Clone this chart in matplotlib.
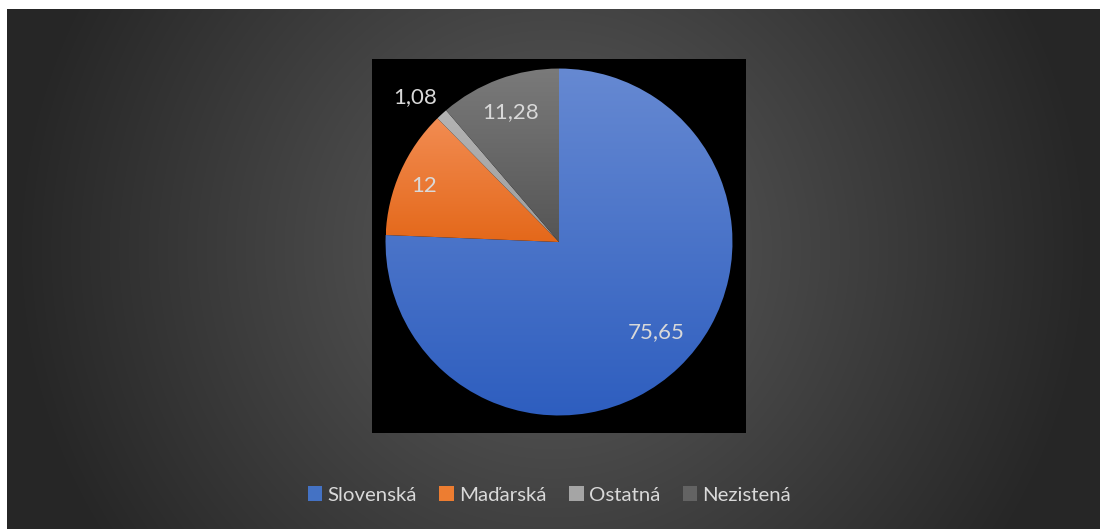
import numpy as np
import matplotlib.pyplot as plt
from matplotlib.colors import LinearSegmentedColormap

categories = ["Slovenská", "Maďarská", "Ostatná", "Nezistená"]
values = [75.65, 12, 1.08, 11.28]
labels = ["75,65", "12", "1,08", "11,28"]

# (top colour, bottom colour) for each slice
grads = [("#6689d2", "#2e5ebf"), ("#f28c52", "#e4681a"),
         ("#b4b4b4", "#9c9c9c"), ("#7a7a7a", "#555555")]
legend_colors = ["#4472c4", "#ed7d31", "#a5a5a5", "#636363"]

W, H = 1100, 529
fig = plt.figure(figsize=(11, 5.29), dpi=100, facecolor="white")

# dark radial background
bg = fig.add_axes([7 / W, 0, 1 - 7 / W, 1 - 9 / H])
yy, xx = np.mgrid[0:520, 0:1093]
r = np.hypot(xx - 545, yy - 240) / 600.0
t = np.clip((r - 0.22) / 0.68, 0, 1)
shade = (0x50 - (0x50 - 0x26) * t) / 255.0
bg.imshow(np.dstack([shade] * 3), aspect="auto", extent=(0, 1, 0, 1),
          origin="upper")
bg.set_axis_off()

# black plot area
ax = fig.add_axes([372 / W, (H - 433) / H, 374 / W, 374 / H])
wedges, _ = ax.pie(values, startangle=90, counterclock=False, radius=1,
                   wedgeprops=dict(linewidth=0))
ax.set_frame_on(True)
ax.set_facecolor("black")
for s in ax.spines.values():
    s.set_visible(False)
ax.set_xticks([])
ax.set_yticks([])

for w, (top, bot) in zip(wedges, grads):
    w.set_facecolor("none")
    verts = w.get_path().vertices
    ymin, ymax = verts[:, 1].min(), verts[:, 1].max()
    xmin, xmax = verts[:, 0].min(), verts[:, 0].max()
    cmap = LinearSegmentedColormap.from_list("g", [bot, top])
    grad = np.linspace(0, 1, 256).reshape(-1, 1)
    im = ax.imshow(grad, cmap=cmap, aspect="auto", origin="lower",
                   extent=(xmin, xmax, ymin, ymax), zorder=1)
    im.set_clip_path(w)

ax.set_xlim(-1.078, 1.078)
ax.set_ylim(-1.101, 1.055)
ax.set_aspect("equal")

# data labels (pixel positions converted to data units: 173.5 px per unit)
label_pos = [(656, 332), (424, 186), (415, 97), (511, 112)]
for lab, (px, py) in zip(labels, label_pos):
    ax.text((px - 559) / 173.5, (242 - py) / 173.5, lab, color="#d9d9d9",
            fontsize=16, family="Lato", ha="center", va="center", zorder=3)

# legend
handles = [plt.Rectangle((0, 0), 1, 1, facecolor=c, edgecolor="none")
           for c in legend_colors]
fig.legend(handles, categories, loc="center", bbox_to_anchor=(0.4995, 1 - 495 / H),
           ncol=4, frameon=False, labelcolor="#d9d9d9",
           handlelength=0.72, handleheight=0.72, handletextpad=0.25,
           columnspacing=1.1, prop=dict(family="Lato", size=14.7))

fig.savefig("out.png", dpi=100, facecolor="white")
